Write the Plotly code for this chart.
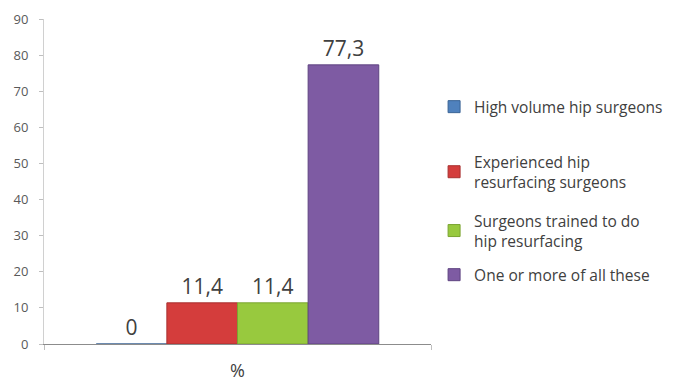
import plotly.graph_objects as go

category = ["%"]
series_names = [
    "High volume hip surgeons",
    "Experienced hip<br>resurfacing surgeons",
    "Surgeons trained to do<br>hip resurfacing",
    "One or more of all these",
]
series_values = [0, 11.4, 11.4, 77.3]
value_labels = ["0", "11,4", "11,4", "77,3"]
colors = ["#4F81BD", "#D43D3C", "#98C93E", "#7E5BA3"]
line_colors = ["#3A6395", "#A8302F", "#7AA431", "#5E4380"]
legend_ids = ["legend", "legend2", "legend3", "legend4"]
legend_y = [0.729, 0.529, 0.348, 0.212]

fig = go.Figure()
for i, (name, val, lab) in enumerate(zip(series_names, series_values, value_labels)):
    fig.add_trace(go.Bar(
        x=category, y=[val], name=name,
        marker=dict(color=colors[i], line=dict(color=line_colors[i], width=1)),
        text=[lab], textposition="outside", cliponaxis=False,
        textfont=dict(family="Open Sans, Liberation Sans, sans-serif", size=21, color="#404040"),
        legend=legend_ids[i],
    ))

legend_common = dict(x=0.645, xref="container", xanchor="left", yanchor="middle",
                     font=dict(size=15.5, color="#404040"), bgcolor="rgba(0,0,0,0)")
layout_legends = {lid: dict(y=ly, **legend_common) for lid, ly in zip(legend_ids, legend_y)}

fig.update_layout(
    width=673, height=385,
    margin=dict(l=44, r=242, t=19, b=41, autoexpand=False),
    paper_bgcolor="white", plot_bgcolor="white",
    barmode="group", bargap=0.27, bargroupgap=0,
    font=dict(family="Open Sans, Liberation Sans, sans-serif", color="#404040"),
    showlegend=True,
    **layout_legends,
)
fig.update_xaxes(
    range=[-0.5, 0.5], showline=True, linecolor="#8C8C8C", linewidth=1,
    ticks="outside", tickson="boundaries", ticklen=5, tickcolor="#BFBFBF",
    ticklabelstandoff=10, automargin=False,
    tickfont=dict(size=18, color="#404040"), showgrid=False, zeroline=False,
)
fig.update_yaxes(
    range=[0, 90], dtick=10, showline=True, linecolor="#D0D0D0", linewidth=1,
    ticks="outside", ticklen=4, tickcolor="#BFBFBF", ticklabelstandoff=8,
    automargin=False,
    tickfont=dict(size=13, color="#595959"), showgrid=False, zeroline=False,
)

fig.write_html("out.html")
